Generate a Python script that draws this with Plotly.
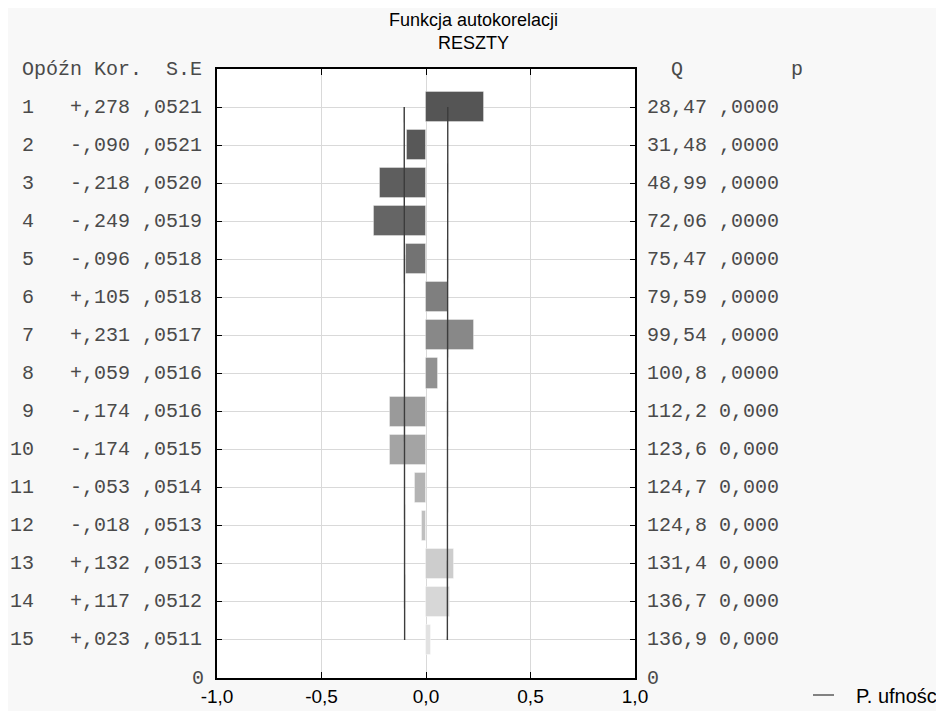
import plotly.graph_objects as go

# ---- data ----
lags = list(range(1, 16))
corr = [0.278, -0.090, -0.218, -0.249, -0.096, 0.105, 0.231, 0.059,
        -0.174, -0.174, -0.053, -0.018, 0.132, 0.117, 0.023]
se = [0.0521, 0.0521, 0.0520, 0.0519, 0.0518, 0.0518, 0.0517, 0.0516,
      0.0516, 0.0515, 0.0514, 0.0513, 0.0513, 0.0512, 0.0511]
q_stat = [28.47, 31.48, 48.99, 72.06, 75.47, 79.59, 99.54, 100.8,
          112.2, 123.6, 124.7, 124.8, 131.4, 136.7, 136.9]
p_labels = [",0000"] * 8 + ["0,000"] * 7
x_ticks = [-1.0, -0.5, 0.0, 0.5, 1.0]
x_ticklabels = ["-1,0", "-0,5", "0,0", "0,5", "1,0"]

# ---- styles ----
bar_colors = ['#555555', '#585858', '#5e5e5e', '#656565', '#737373',
              '#7f7f7f', '#888888', '#919191', '#9a9a9a', '#a4a4a4',
              '#b3b3b3', '#bfbfbf', '#cdcdcd', '#d7d7d7', '#e2e2e2']
NB = '\u00a0'
MONO = "Liberation Mono, Courier New, monospace"
SANS = "Liberation Sans, Arial, sans-serif"
OFF = 8  # page body margin of the viewer

# plot area in screen pixels (reference)
PL, PR, PT, PB = 217, 635, 69, 678
PW = PR - PL
PH = PB - PT


def px_x(px):
    return (px - PL) / PW


def px_y(py):
    return (PB - py) / PH


def fmt_corr(v):
    s = "+" if v >= 0 else "-"
    return s + "," + f"{abs(v):.3f}".split(".")[1]


def fmt_se(v):
    return "," + f"{v:.4f}".split(".")[1]


def fmt_q(v):
    s = f"{v:.2f}" if v < 100 else f"{v:.1f}"
    return s.replace(".", ",")


fig = go.Figure()

fig.add_trace(go.Bar(
    x=corr, y=lags, orientation='h', width=0.79,
    marker=dict(color=bar_colors, line=dict(color='rgba(255,255,255,0.35)', width=1)),
    showlegend=False, hoverinfo='skip'))

upper = [2 * s for s in se]
lower = [-2 * s for s in se]
for xs in (lower, upper):
    fig.add_trace(go.Scatter(x=xs, y=lags, mode='lines',
                             line=dict(color='#3c3c3c', width=1.4),
                             showlegend=False, hoverinfo='skip'))

mono_font = dict(family=MONO, size=20, color='#4a4a4a')
LX = px_x(204)
RX = px_x(645)
ann = []
ann.append(dict(x=LX, y=0, xref='paper', yref='y', xanchor='right', yanchor='middle',
                text="Opóźn Kor.  S.E".replace(' ', NB), showarrow=False, font=mono_font))
ann.append(dict(x=RX, y=0, xref='paper', yref='y', xanchor='left', yanchor='middle',
                text="  Q         p".replace(' ', NB), showarrow=False, font=mono_font))
for i, lag in enumerate(lags):
    left = f"{lag:2d}   {fmt_corr(corr[i])} {fmt_se(se[i])}"
    right = f"{fmt_q(q_stat[i])} {p_labels[i]}"
    ann.append(dict(x=LX, y=lag, xref='paper', yref='y', xanchor='right', yanchor='middle',
                    text=left.replace(' ', NB), showarrow=False, font=mono_font))
    ann.append(dict(x=RX, y=lag, xref='paper', yref='y', xanchor='left', yanchor='middle',
                    text=right.replace(' ', NB), showarrow=False, font=mono_font))
ann.append(dict(x=px_x(206), y=16, xref='paper', yref='y', xanchor='right', yanchor='middle',
                text="0", showarrow=False, font=mono_font))
ann.append(dict(x=RX, y=16, xref='paper', yref='y', xanchor='left', yanchor='middle',
                text="0", showarrow=False, font=mono_font))
# title
ann.append(dict(x=px_x(473), y=px_y(31), xref='paper', yref='paper',
                xanchor='center', yanchor='middle', showarrow=False,
                text="Funkcja autokorelacji<br>RESZTY",
                font=dict(family=SANS, size=18, color='#000')))
# legend
ann.append(dict(x=px_x(854), y=px_y(696), xref='paper', yref='paper',
                xanchor='left', yanchor='middle', showarrow=False,
                text="P. ufności", font=dict(family=SANS, size=20, color='#000')))
shapes = [dict(type='line', xref='paper', yref='paper',
               x0=px_x(813), x1=px_x(834), y0=px_y(695), y1=px_y(695),
               line=dict(color='#333', width=1.2))]

W, H = 944, 711
fig.update_layout(
    width=W, height=H,
    margin=dict(l=PL - OFF, r=W - (PR - OFF), t=PT - OFF, b=H - (PB - OFF)),
    paper_bgcolor='#f8f8f8', plot_bgcolor='#ffffff',
    annotations=ann, shapes=shapes,
    bargap=0, showlegend=False,
)
fig.update_xaxes(range=[-1, 1], tickvals=x_ticks, ticktext=x_ticklabels,
                 ticks='inside', ticklen=6, tickcolor='#000', tickwidth=1.3,
                 showline=True, linecolor='#000', linewidth=1.6, mirror='ticks',
                 showgrid=True, gridcolor='#d9d9d9', gridwidth=1, zeroline=False,
                 tickfont=dict(family=SANS, size=19, color='#000'))
fig.update_yaxes(range=[16, 0], tickvals=lags, showticklabels=False,
                 ticks='inside', ticklen=5, tickcolor='#000', tickwidth=1.3,
                 showline=True, linecolor='#000', linewidth=1.6, mirror='ticks',
                 showgrid=True, gridcolor='#d9d9d9', gridwidth=1, zeroline=False)

fig.write_html("out.html")
